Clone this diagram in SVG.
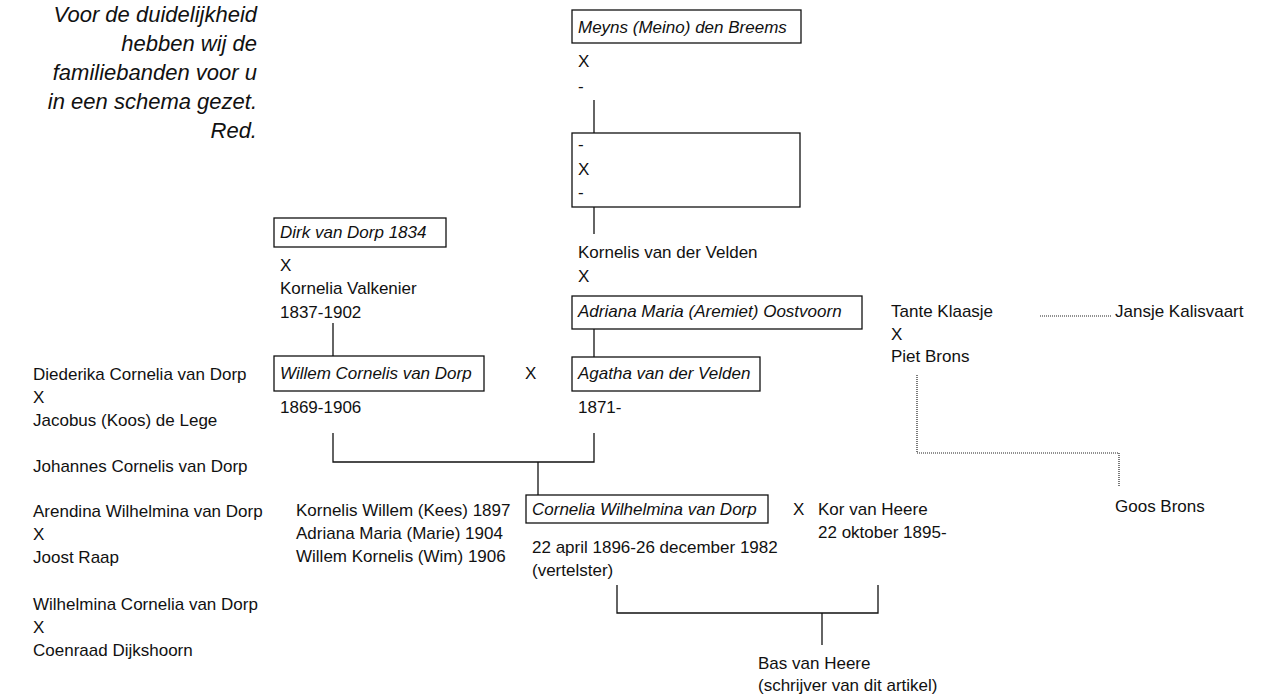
<svg xmlns="http://www.w3.org/2000/svg" width="1280" height="695" viewBox="0 0 1280 695">
<style>
text{font-family:"Liberation Sans",Arial,sans-serif;font-size:17px;fill:#111}
.i{font-style:italic}
.note{font-style:italic;font-size:22px;text-anchor:end}
.box{fill:#fff;stroke:#111;stroke-width:1.3}
.ln{fill:none;stroke:#111;stroke-width:1.3}
.dot{fill:none;stroke:#222;stroke-width:1.2;stroke-dasharray:1 1}
</style>
<rect width="1280" height="695" fill="#fff"/>
<g id="note">
<text class="note" x="257" y="22">Voor de duidelijkheid</text>
<text class="note" x="257" y="51">hebben wij de</text>
<text class="note" x="257" y="80">familiebanden voor u</text>
<text class="note" x="257" y="109">in een schema gezet.</text>
<text class="note" x="257" y="138">Red.</text>
</g>
<g id="connectors">
<line class="ln" x1="594" y1="100" x2="594" y2="133"/>
<line class="ln" x1="594" y1="207" x2="594" y2="234"/>
<line class="ln" x1="594" y1="329" x2="594" y2="357"/>
<line class="ln" x1="333" y1="323" x2="333" y2="356"/>
<polyline class="ln" points="333,433 333,462 594,462 594,433"/>
<line class="ln" x1="538" y1="462" x2="538" y2="495"/>
<polyline class="ln" points="617,585 617,613 878,613 878,585"/>
<line class="ln" x1="822" y1="613" x2="822" y2="645"/>
<line class="dot" x1="1040" y1="316" x2="1112" y2="316"/>
<polyline class="dot" points="917,375 917,453 1119,453 1119,487"/>
</g>
<g id="meyns">
<rect class="box" x="572" y="10" width="229" height="33"/>
<text class="i" x="578" y="33">Meyns (Meino) den Breems</text>
<text x="578" y="67">X</text>
<text x="578" y="92">-</text>
</g>
<g id="unknown">
<rect class="box" x="572" y="133" width="228" height="74"/>
<text x="578" y="150">-</text>
<text x="578" y="175">X</text>
<text x="578" y="198">-</text>
</g>
<g id="kornelis">
<text x="578" y="258">Kornelis van der Velden</text>
<text x="578" y="282">X</text>
</g>
<g id="adriana">
<rect class="box" x="572" y="296" width="290" height="33"/>
<text class="i" x="578" y="317">Adriana Maria (Aremiet) Oostvoorn</text>
</g>
<g id="agatha">
<rect class="box" x="572" y="357" width="188" height="34"/>
<text class="i" x="578" y="379">Agatha van der Velden</text>
<text x="578" y="413">1871-</text>
</g>
<g id="dirk">
<rect class="box" x="274" y="218" width="172" height="29"/>
<text class="i" x="280" y="238">Dirk van Dorp 1834</text>
<text x="280" y="271">X</text>
<text x="280" y="294">Kornelia Valkenier</text>
<text x="280" y="318">1837-1902</text>
</g>
<g id="willem">
<rect class="box" x="274" y="356" width="210" height="35"/>
<text class="i" x="280" y="379">Willem Cornelis van Dorp</text>
<text x="280" y="413">1869-1906</text>
</g>
<g id="marriage1">
<text x="525" y="379">X</text>
</g>
<g id="siblings">
<text x="33" y="380">Diederika Cornelia van Dorp</text>
<text x="33" y="403">X</text>
<text x="33" y="426">Jacobus (Koos) de Lege</text>
<text x="33" y="472">Johannes Cornelis van Dorp</text>
<text x="33" y="517">Arendina Wilhelmina van Dorp</text>
<text x="33" y="540">X</text>
<text x="33" y="563">Joost Raap</text>
<text x="33" y="610">Wilhelmina Cornelia van Dorp</text>
<text x="33" y="633">X</text>
<text x="33" y="656">Coenraad Dijkshoorn</text>
</g>
<g id="children">
<text x="296" y="516">Kornelis Willem (Kees) 1897</text>
<text x="296" y="539">Adriana Maria (Marie) 1904</text>
<text x="296" y="562">Willem Kornelis (Wim) 1906</text>
</g>
<g id="cornelia">
<rect class="box" x="526" y="495" width="242" height="28"/>
<text class="i" x="532" y="515">Cornelia Wilhelmina van Dorp</text>
<text x="532" y="553">22 april 1896-26 december 1982</text>
<text x="532" y="576">(vertelster)</text>
</g>
<g id="kor">
<text x="793" y="515">X</text>
<text x="818" y="515">Kor van Heere</text>
<text x="818" y="538">22 oktober 1895-</text>
</g>
<g id="bas">
<text x="758" y="669">Bas van Heere</text>
<text x="758" y="691">(schrijver van dit artikel)</text>
</g>
<g id="klaasje">
<text x="891" y="317">Tante Klaasje</text>
<text x="891" y="340">X</text>
<text x="891" y="362">Piet Brons</text>
</g>
<g id="jansje">
<text x="1115" y="317">Jansje Kalisvaart</text>
</g>
<g id="goos">
<text x="1115" y="512">Goos Brons</text>
</g>
</svg>
